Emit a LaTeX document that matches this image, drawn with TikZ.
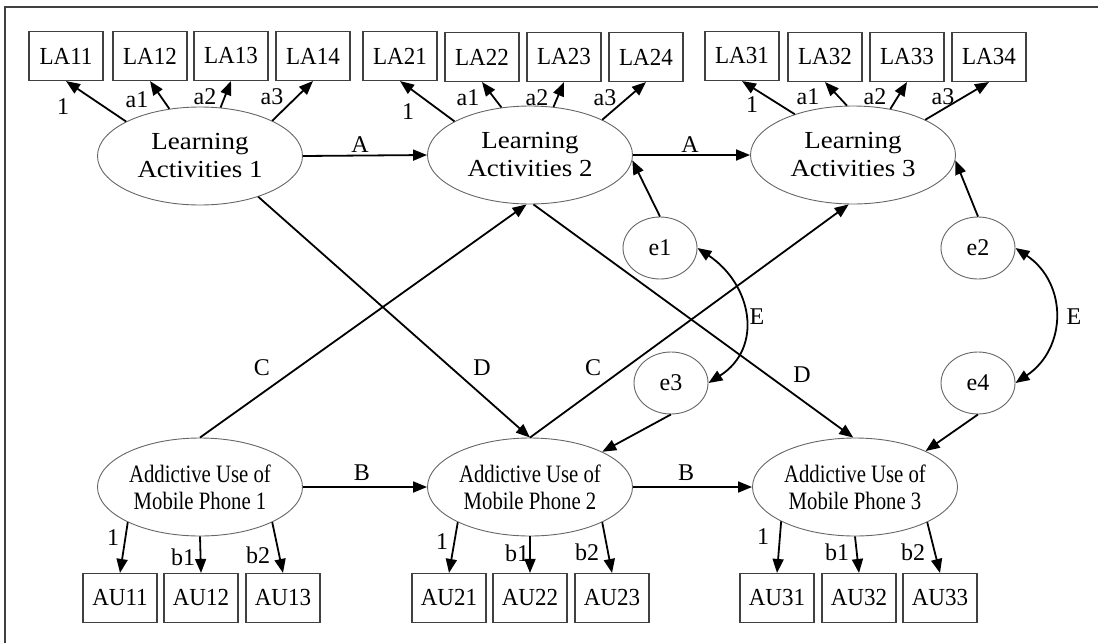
\documentclass[tikz,border=0pt]{standalone}
\usepackage{fontspec}
\setmainfont{Liberation Serif}
\newfontfamily\wideserif[FakeStretch=1.1]{Liberation Serif}
\newfontfamily\narrowserif[FakeStretch=0.83]{Liberation Serif}
\newfontfamily\boxserif[FakeStretch=0.94]{Liberation Serif}
\usetikzlibrary{arrows.meta,shapes.geometric}

\tikzset{
  tri/.tip={Triangle[length=14pt,width=11pt]},
  obs/.style={draw=black!75, line width=1.1pt, minimum width=74pt,
    minimum height=49pt, inner sep=0pt, font=\boxserif\fontsize{24.5}{24}\selectfont},
  lat/.style={ellipse, draw=black!60, line width=0.9pt, minimum width=205pt,
    minimum height=98pt, inner sep=0pt, align=center,
    font=\wideserif\fontsize{24.5}{28}\selectfont},
  latau/.style={lat, font=\narrowserif\fontsize{25}{27}\selectfont},
  err/.style={ellipse, draw=black!60, line width=0.9pt, minimum width=74pt,
    minimum height=62pt, inner sep=0pt, font=\fontsize{24}{24}\selectfont},
  arr/.style={-tri, line width=1.8pt},
  lbl/.style={inner sep=0pt, font=\fontsize{24}{24}\selectfont}
}

\begin{document}
\begin{tikzpicture}[x=1pt, y=-1pt]

\useasboundingbox (0,0) rectangle (1098,643);

% Frame (top and left edges only are visible)
\draw[black!75, line width=1.2pt] (5,643) -- (5,7) -- (1098,7);

% Latent variables
\node[lat] (LA1) at (200,156) {Learning\\Activities 1};
\node[lat] (LA2) at (530,155) {Learning\\Activities 2};
\node[lat] (LA3) at (853,155) {Learning\\Activities 3};
\node[latau] (AU1) at (200,487) {Addictive Use of\\Mobile Phone 1};
\node[latau] (AU2) at (530,487) {Addictive Use of\\Mobile Phone 2};
\node[latau] (AU3) at (855,487) {Addictive Use of\\Mobile Phone 3};

% Error terms
\node[err] (e1) at (660,248) {e1};
\node[err] (e2) at (978,248) {e2};
\node[err] (e3) at (671,383) {e3};
\node[err] (e4) at (978,383) {e4};

% Indicators of learning activities
\node[obs] (LA11) at (66,56) {LA11};
\node[obs] (LA12) at (150,56) {LA12};
\node[obs] (LA13) at (231,56) {LA13};
\node[obs] (LA14) at (313,56) {LA14};
\node[obs] (LA21) at (400,56) {LA21};
\node[obs] (LA22) at (482,57) {LA22};
\node[obs] (LA23) at (564,57) {LA23};
\node[obs] (LA24) at (646,57) {LA24};
\node[obs] (LA31) at (742,56) {LA31};
\node[obs] (LA32) at (825,57) {LA32};
\node[obs] (LA33) at (907,57) {LA33};
\node[obs] (LA34) at (989,57) {LA34};

% Indicators of addictive use
\node[obs] (AU11) at (120,598) {AU11};
\node[obs] (AU12) at (201,598) {AU12};
\node[obs] (AU13) at (283,598) {AU13};
\node[obs] (AU21) at (449,598) {AU21};
\node[obs] (AU22) at (530,598) {AU22};
\node[obs] (AU23) at (612,598) {AU23};
\node[obs] (AU31) at (777,598) {AU31};
\node[obs] (AU32) at (859,598) {AU32};
\node[obs] (AU33) at (940,598) {AU33};

% Loadings, learning activities
\draw[arr] (LA1.155) -- (LA11.south);
\draw[arr] (LA1.123) -- (LA12.south);
\draw[arr] (LA1.67) -- (LA13.south);
\draw[arr] (LA1.26) -- (LA14.south);
\draw[arr] (LA2.156) -- (LA21.south);
\draw[arr] (LA2.121) -- (LA22.south);
\draw[arr] (LA2.64) -- (LA23.south);
\draw[arr] (LA2.26) -- (LA24.south);
\draw[arr] (LA3.145) -- (LA31.south);
\draw[arr] (LA3.97) -- (LA32.south);
\draw[arr] (LA3.51) -- (LA33.south);
\draw[arr] (LA3.26) -- (LA34.south);

% Loadings, addictive use
\draw[arr] (AU1.206) -- (AU11.north);
\draw[arr] (AU1.270) -- (AU12.north);
\draw[arr] (AU1.334) -- (AU13.north);
\draw[arr] (AU2.206) -- (AU21.north);
\draw[arr] (AU2.270) -- (AU22.north);
\draw[arr] (AU2.334) -- (AU23.north);
\draw[arr] (AU3.205) -- (AU31.north);
\draw[arr] (AU3.270) -- (AU32.north);
\draw[arr] (AU3.334) -- (AU33.north);

% Loading labels
\node[lbl] (l11) at (63,107) {1};
\node[lbl] (l12) at (137,100) {a1};
\node[lbl] (l13) at (205,97) {a2};
\node[lbl] (l14) at (272,97) {a3};
\node[lbl] (l21) at (408,112) {1};
\node[lbl] (l22) at (468,98) {a1};
\node[lbl] (l23) at (537,98) {a2};
\node[lbl] (l24) at (605,98) {a3};
\node[lbl] (l31) at (752,105) {1};
\node[lbl] (l32) at (808,97) {a1};
\node[lbl] (l33) at (875,97) {a2};
\node[lbl] (l34) at (943,97) {a3};
\node[lbl] (m11) at (113,538) {1};
\node[lbl] (m12) at (183,557) {b1};
\node[lbl] (m13) at (258,555) {b2};
\node[lbl] (m21) at (442,542) {1};
\node[lbl] (m22) at (517,553) {b1};
\node[lbl] (m23) at (587,552) {b2};
\node[lbl] (m31) at (763,537) {1};
\node[lbl] (m32) at (837,552) {b1};
\node[lbl] (m33) at (913,552) {b2};

% Autoregressive paths
\draw[arr] (LA1.east) -- (LA2.west);
\draw[arr] (LA2.east) -- (LA3.west);
\draw[arr] (AU1.east) -- (AU2.west);
\draw[arr] (AU2.east) -- (AU3.west);

% Cross-lagged paths
\draw[arr] (AU1.north) -- (LA2.266);
\draw[arr] (AU2.north) -- (LA3.265);
\draw[arr] (LA1.-35) -- (AU2.north);
\draw[arr] (LA2.274) -- (AU3.92);

% Disturbances
\draw[arr] (e1.north) -- (LA2.-3);
\draw[arr] (e2.north) -- (LA3.-3);
\draw[arr] (e3.south) -- (AU2.26);
\draw[arr] (e4.south) -- (AU3.27);

% Covariances between disturbances
\draw[tri-tri, line width=1.8pt] (e1.east) .. controls +(55,37) and +(55,-35) .. (e3.east);
\draw[tri-tri, line width=1.8pt] (e2.east) .. controls +(52,35) and +(52,-35) .. (e4.east);

% Path labels
\node[lbl] (pA1) at (360,145) {A};
\node[lbl] (pA2) at (690,145) {A};
\node[lbl] (pB1) at (362,473) {B};
\node[lbl] (pB2) at (686,473) {B};
\node[lbl] (pC1) at (262,368) {C};
\node[lbl] (pC2) at (593,368) {C};
\node[lbl] (pD1) at (482,368) {D};
\node[lbl] (pD2) at (802,375) {D};
\node[lbl] (pE1) at (757,317) {E};
\node[lbl] (pE2) at (1074,317) {E};

\end{tikzpicture}
\end{document}
